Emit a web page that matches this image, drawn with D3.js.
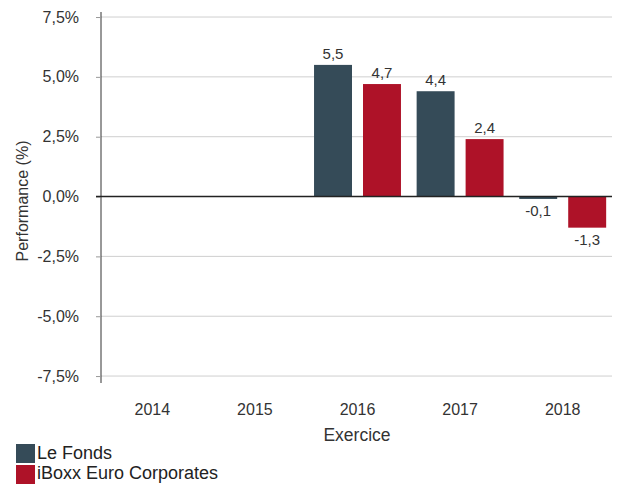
<!DOCTYPE html>
<html><head><meta charset="utf-8">
<script src="https://cdn.jsdelivr.net/npm/d3@7"></script>
<style>body{margin:0;background:#fff}svg{display:block;font-family:"Liberation Sans",Arial,Helvetica,sans-serif}</style>
</head><body><svg id="c" width="620" height="484"></svg>
<script>
const categories = ["2014","2015","2016","2017","2018"];
const seriesNames = ["Le Fonds","iBoxx Euro Corporates"];
const fonds = [null,null,5.5,4.4,-0.1];
const iboxx = [null,null,4.7,2.4,-1.3];
const yTicks = [7.5,5,2.5,0,-2.5,-5,-7.5];
const colors = ["#354b58","#ae1228"];

const svg = d3.select("#c");
const pLeft=101, pRight=614, pTop=12, pBottom=383;
const y = d3.scaleLinear().domain([-7.79,7.71]).range([pBottom,pTop]);
const x = d3.scaleBand().domain(categories).range([pLeft,pRight]);
const x1 = d3.scaleBand().domain(seriesNames).range([0,x.bandwidth()]).paddingInner(0.225).paddingOuter(0.16);
const fmt = v => d3.format(".1f")(v).replace(".",",").replace("−","-");

// gridlines
svg.append("g").selectAll("line").data(yTicks.filter(d=>d!==0)).join("line")
  .attr("x1",pLeft).attr("x2",612).attr("y1",d=>y(d)).attr("y2",d=>y(d))
  .attr("stroke","#cfcfcf").attr("stroke-width",1);

// y axis
const ya = svg.append("g").attr("transform",`translate(${pLeft},0)`)
  .call(d3.axisLeft(y).tickValues(yTicks).tickSize(5).tickPadding(17).tickFormat(d=>fmt(d)+"%"));
ya.select(".domain").attr("d",`M0,${pTop}V${pBottom}`).attr("stroke","#333");
ya.selectAll(".tick line").attr("stroke","#999");
ya.selectAll("text").attr("font-size",16).attr("fill","#333").attr("font-family","Liberation Sans, Arial, sans-serif");

// bars
const data = categories.map((c,i)=>({c, vals:[fonds[i],iboxx[i]]}));
const g = svg.append("g");
data.forEach(d=>{
  d.vals.forEach((v,j)=>{
    if(v==null) return;
    const bx = x(d.c)+x1(seriesNames[j]);
    g.append("rect").attr("x",bx).attr("width",x1.bandwidth())
      .attr("y",y(Math.max(0,v))).attr("height",Math.abs(y(v)-y(0)))
      .attr("fill",colors[j]);
    g.append("text").attr("x",bx+x1.bandwidth()/2)
      .attr("y", v>=0 ? y(v)-6 : y(v)+17)
      .attr("text-anchor","middle").attr("font-size",15).attr("fill","#333")
      .text(fmt(v));
  });
});

// zero line
svg.append("line").attr("x1",96).attr("x2",612).attr("y1",y(0)).attr("y2",y(0))
  .attr("stroke","#222").attr("stroke-width",1.5);

// x labels
svg.append("g").selectAll("text").data(categories).join("text")
  .attr("x",d=>x(d)+x.bandwidth()/2).attr("y",415).attr("text-anchor","middle")
  .attr("font-size",16).attr("fill","#333").text(d=>d);
svg.append("text").attr("x",357).attr("y",441).attr("text-anchor","middle")
  .attr("font-size",17.5).attr("fill","#333").text("Exercice");
svg.append("text").attr("transform","translate(28,201) rotate(-90)").attr("text-anchor","middle")
  .attr("font-size",16).attr("fill","#333").text("Performance (%)");

// legend
const lg = svg.append("g");
seriesNames.forEach((s,i)=>{
  lg.append("rect").attr("x",16).attr("y",444+i*21).attr("width",19).attr("height",19).attr("fill",colors[i]);
  lg.append("text").attr("x",37).attr("y",459+i*20).attr("font-size",18).attr("fill","#222").text(s);
});
</script></body></html>
